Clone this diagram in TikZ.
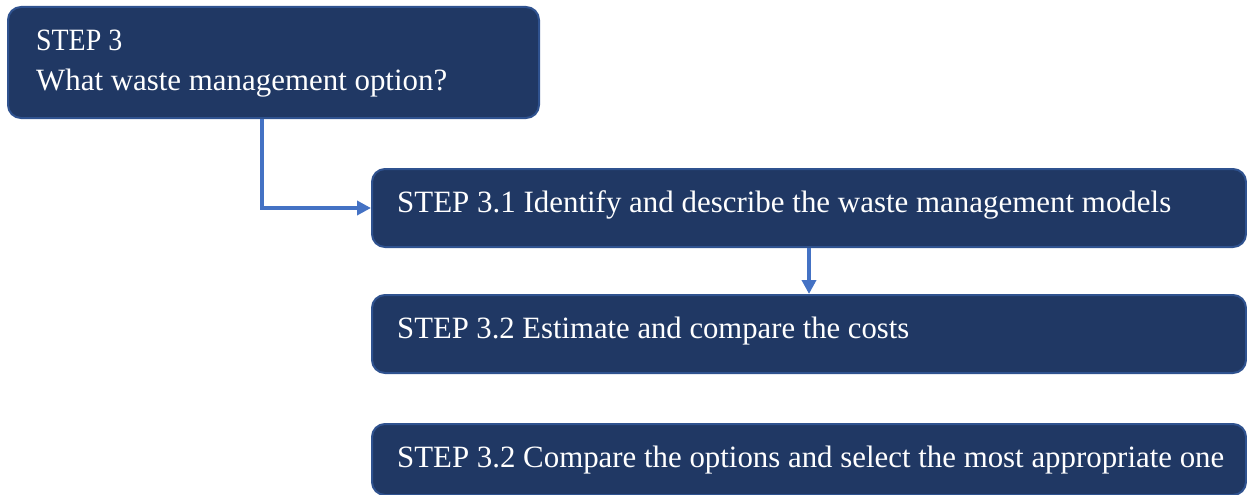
\documentclass[tikz,border=0pt]{standalone}
\usepackage{fontspec}
\setmainfont{Liberation Serif}
\usetikzlibrary{arrows.meta,calc}
\definecolor{boxfill}{HTML}{203864}
\definecolor{boxline}{HTML}{2F528F}
\definecolor{linkblue}{HTML}{4472C4}
% set a line of text to a given width, keeping its height
\newcommand{\fitline}[2]{\resizebox{#1}{\height}{#2}}
\begin{document}
\begin{tikzpicture}[x=1pt,y=-1pt,
  stepbox/.style={draw=boxline, line width=2pt, fill=boxfill,
    rounded corners=13pt, inner sep=0pt, anchor=north west},
  steptext/.style={text=white, anchor=base west, inner sep=0pt,
    font=\fontsize{31}{37}\selectfont},
  link/.style={draw=linkblue, line width=3.5pt,
    -{Triangle[length=14pt,width=14pt]}}]
\useasboundingbox (0,0) rectangle (1247,495);

% boxes
\node[stepbox, minimum width=531pt, minimum height=111pt] (s3)  at (7,6) {};
\node[stepbox, minimum width=874pt, minimum height=78pt]  (s31) at (371,168) {};
\node[stepbox, minimum width=874pt, minimum height=78pt]  (s32) at (371,294) {};
\node[stepbox, minimum width=874pt, minimum height=71pt]  (s33) at (371,423) {};

% labels
\node[steptext] (s3a) at (36,51)  {\fitline{86pt}{STEP 3}};
\node[steptext] (s3b) at (36,91)  {\fitline{411pt}{What waste management option?}};
\node[steptext] (t31) at (397,212) {\fitline{774pt}{STEP 3.1 Identify and describe the waste management models}};
\node[steptext] (t32) at (397,338) {\fitline{512pt}{STEP 3.2 Estimate and compare the costs}};
\node[steptext] (t33) at (397,467) {\fitline{827pt}{STEP 3.2 Compare the options and select the most appropriate one}};

% connectors
\draw[link] ($(s3.south west)+(255,0)$) |- (s31.west);
\draw[link] ($(s31.south west)+(438,0)$) -- ($(s32.north west)+(438,0)$);
\end{tikzpicture}
\end{document}
